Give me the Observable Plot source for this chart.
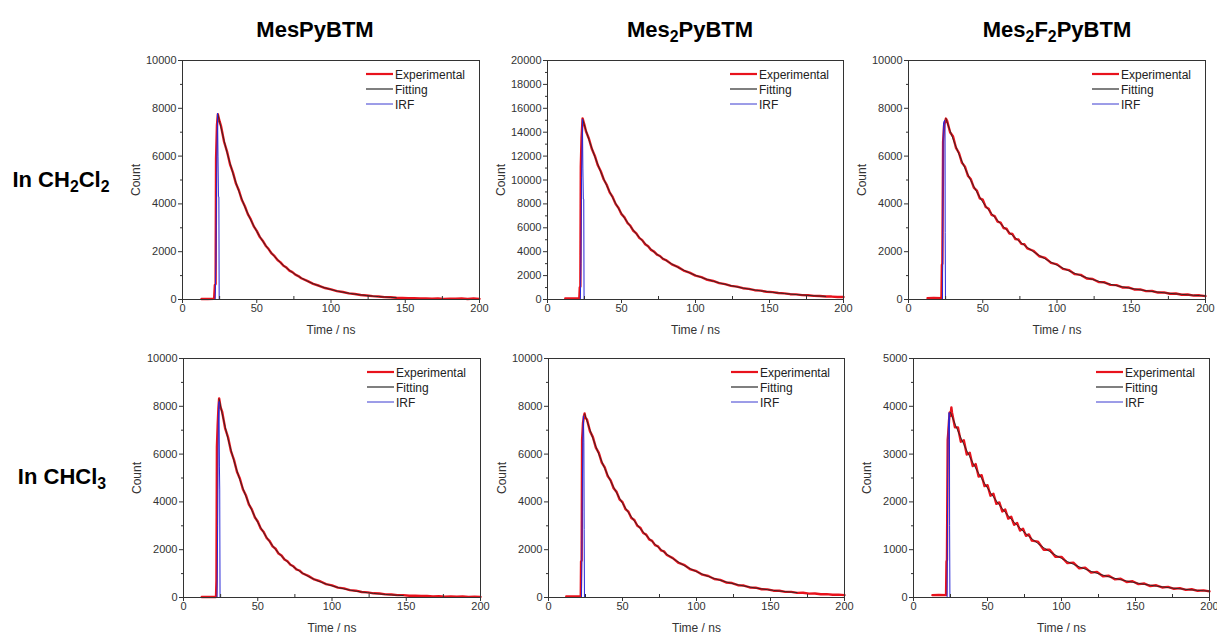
<!DOCTYPE html>
<html><head><meta charset="utf-8">
<script src="https://cdn.jsdelivr.net/npm/d3@7"></script>
<script src="https://cdn.jsdelivr.net/npm/@observablehq/plot@0.6"></script>
<style>
html,body{margin:0;padding:0;background:#fff;}
body{width:1217px;height:635px;position:relative;overflow:hidden;font-family:"Liberation Sans",Arial,sans-serif;}
.title,.rowlab{position:absolute;font-weight:bold;font-size:22px;line-height:1;color:#000;white-space:nowrap;transform:translate(-50%,-50%);}
sub{font-size:0.72em;vertical-align:-0.3em;line-height:0;}
.panel{position:absolute;}
.panel svg{max-width:none !important;}
.legend{position:absolute;}
</style></head><body>
<script>
// ---------- DATA ----------
const titles = ["MesPyBTM", "Mes<sub>2</sub>PyBTM", "Mes<sub>2</sub>F<sub>2</sub>PyBTM"];
const rowLabels = ["In CH<sub>2</sub>Cl<sub>2</sub>", "In CHCl<sub>3</sub>"];
const legendNames = ["Experimental", "Fitting", "IRF"];
const xTicks = [0, 50, 100, 150, 200];
const xMinor = [25, 75, 125, 175];
const yMax = [10000, 20000, 10000, 10000, 10000, 5000];
const yStep = [2000, 2000, 2000, 2000, 2000, 1000];

const tailT = [26,28,30,32,34,36,38,40,42,44,46,48,50,52,54,56,58,60,62,64,66,68,70,72,74,76,78,80,
  84,88,92,96,100,104,108,112,116,120,124,128,132,136,140,144,148,152,156,160,164,168,172,176,180,184,188,192,196,200];

// panel 1: MesPyBTM in CH2Cl2
const headT1 = [12.8, 17, 21.3, 21.8, 22.3, 22.6, 23.2, 23.8, 25];
const headExp1 = [20, 22, 25, 600, 650, 5900, 7300, 7750, 7450];
const tailExp1 = [7240,6600,6190,5660,5310,4850,4560,4160,3900,3570,3350,3060,2870,2620,2460,2250,2110,1925,1810,1650,1555,1415,1335,1210,1145,1040,980,890,
  780,655,575,480,425,350,312,258,230,188,170,140,126,100,92,75,70,55,52,40,48,30,44,25,38,30,45,22,40,28];
const tailFit1 = [7177,6645,6153,5697,5275,4885,4523,4188,3878,3591,3325,3079,2851,2640,2444,2264,2096,1941,1797,1664,1541,1427,1321,1223,1133,1049,971,899,
  771,661,567,486,417,357,306,263,225,193,166,142,122,104,89,77,66,56,48,41,36,32,28,26,24,22,21,20,20,20];
const irfT1 = [22.0, 22.5, 23.0, 23.6, 23.9, 24.2, 24.5, 24.7];
const irfY1 = [0, 1500, 5300, 7800, 6000, 4300, 4300, 0];

// panel 2: Mes2PyBTM in CH2Cl2
const headT2 = [12, 16, 21.5, 21.8, 22.2, 22.5, 23.0, 23.7, 25];
const headExp2 = [80, 90, 80, 1000, 1100, 11100, 13500, 15150, 14600];
const tailExp2 = [14080,13450,12590,12010,11230,10730,10040,9600,8960,8580,8000,7660,7140,6870,6420,6170,5750,5540,5160,4970,4630,4460,4150,4010,3750,3640,3400,3300,
  2940,2730,2420,2250,2000,1870,1650,1550,1370,1290,1140,1075,945,890,780,740,650,615,540,510,445,425,370,352,305,295,250,245,210,205];
const tailFit2 = [14153,13379,12645,11952,11298,10677,10093,9540,9018,8524,8057,7615,7198,6819,6461,6121,5799,5494,5204,4931,4671,4425,4193,3972,3785,3607,3437,3276,
  2975,2701,2453,2228,2023,1843,1680,1530,1394,1271,1158,1055,961,876,798,727,663,604,550,501,457,416,379,346,315,287,261,238,217,198];
const irfT2 = [22.2, 22.6, 23.0, 23.6, 23.9, 24.2, 24.5, 24.7];
const irfY2 = [0, 3000, 10200, 15100, 11000, 8400, 8400, 0];

// panel 3: Mes2F2PyBTM in CH2Cl2
const headT3 = [12.8, 17, 22.2, 22.5, 22.8, 23.3, 24.0, 24.7, 25.2];
const headExp3 = [50, 60, 50, 1450, 1500, 6600, 7300, 7450, 7570];
const tailExp3 = [7480,7000,6820,6340,6130,5720,5560,5180,5030,4680,4560,4230,4180,3870,3800,3540,3490,3260,3220,2990,2960,2760,2740,2530,2510,2330,2310,2140,
  2040,1810,1740,1530,1470,1280,1230,1060,1030,880,860,730,720,610,600,505,505,420,425,350,355,290,300,240,250,200,210,165,175,140];
const tailFit3 = [7420,7058,6714,6387,6075,5779,5497,5229,4974,4731,4500,4281,4072,3906,3746,3594,3447,3306,3171,3042,2918,2799,2684,2575,2470,2369,2272,2180,
  2005,1845,1698,1562,1437,1313,1199,1095,1001,914,835,763,697,637,581,531,485,443,405,370,338,309,282,258,235,215,196,179,164,150];
const irfT3 = [22.9, 23.3, 23.6, 24.3, 24.6, 24.7, 24.9];
const irfY3 = [0, 6500, 7400, 7500, 7300, 2800, 0];

// panel 4: MesPyBTM in CHCl3
const headT4 = [12.3, 17, 21.9, 22.2, 22.5, 23.0, 23.5, 24.0, 25];
const headExp4 = [20, 25, 20, 700, 6300, 7200, 7900, 8330, 7950];
const tailExp4 = [7780,7090,6700,6110,5760,5260,4970,4530,4280,3900,3690,3360,3180,2890,2740,2490,2360,2140,2040,1840,1760,1590,1515,1370,1305,1180,1130,1015,
  905,755,680,560,505,415,380,310,285,230,215,175,165,130,125,100,98,75,78,60,65,45,55,35,48,30,42,28,36,25];
const tailFit4 = [7703,7149,6635,6158,5715,5304,4923,4569,4240,3935,3652,3390,3146,2920,2710,2515,2334,2166,2010,1866,1732,1607,1492,1384,1285,1193,1107,1027,
  885,762,656,565,487,419,361,311,268,231,199,171,148,127,109,94,81,70,60,52,45,38,33,28,25,21,18,16,14,12];
const irfT4 = [22.6, 23.0, 23.5, 23.9, 24.2, 24.4, 24.6];
const irfY4 = [0, 3000, 7600, 8200, 5500, 4500, 0];

// panel 5: Mes2PyBTM in CHCl3
const headT5 = [12, 17, 21.8, 22.0, 22.4, 22.7, 23.3, 24.0, 24.4, 25];
const headExp5 = [40, 45, 40, 1500, 1550, 6600, 7300, 7600, 7700, 7520];
const tailExp5 = [7450,6960,6710,6270,6050,5640,5440,5080,4900,4570,4420,4110,3990,3700,3590,3330,3240,3000,2920,2700,2630,2430,2370,2190,2140,1975,1930,1780,
  1650,1445,1350,1175,1100,955,900,775,740,630,605,515,500,420,410,345,340,285,282,235,236,195,198,162,168,136,142,115,120,100];
const tailFit5 = [7394,7016,6658,6318,5996,5690,5399,5124,4863,4615,4380,4157,3945,3745,3554,3374,3202,3040,2885,2739,2600,2468,2343,2225,2112,2005,1904,1808,
  1630,1471,1326,1197,1081,975,881,796,720,651,589,533,483,437,397,360,327,297,271,247,225,205,188,172,158,145,134,123,114,106];
const irfT5 = [22.3, 22.8, 23.2, 23.6, 23.9, 24.1, 24.3];
const irfY5 = [0, 4000, 6700, 7600, 6500, 2850, 0];

// panel 6: Mes2F2PyBTM in CHCl3
const headT6 = [12.8, 17, 22.0, 22.3, 22.6, 23.1, 23.5, 24.0, 24.5, 25.0, 25.6];
const headExp6 = [50, 55, 50, 750, 780, 3300, 3450, 3700, 3870, 3800, 3975];
const tailExp6 = [3870,3560,3560,3260,3290,2990,3030,2750,2790,2530,2560,2330,2350,2130,2170,1960,1990,1800,1840,1650,1690,1520,1560,1400,1440,1290,1320,1190,
  1170,1000,1000,850,850,720,730,610,625,520,535,445,455,380,392,325,340,280,292,240,255,210,222,182,195,160,172,140,150,128];
const tailFit6 = [3789,3633,3484,3340,3202,3071,2945,2824,2708,2597,2490,2388,2290,2196,2106,2020,1938,1859,1783,1710,1641,1574,1510,1449,1390,1334,1280,1228,
  1131,1042,961,886,817,753,695,642,593,547,506,468,433,401,372,345,320,297,276,257,239,223,208,194,182,170,160,150,141,133];
const irfT6 = [22.7, 23.1, 23.4, 24.0, 24.3, 24.4, 24.6];
const irfY6 = [0, 2500, 3400, 3870, 3800, 1500, 0];

// fit curve starts at the peak
const peakT = [23.8, 23.7, 25.2, 24.0, 24.4, 25.0];
const peakV = [7750, 15100, 7570, 8300, 7680, 3870];
const fitEnd = [146, 190, 200, 150, 168, 200];

// ---------- LAYOUT (pixels) ----------
const frames = [
  {left: 182, top: 60, w: 297}, {left: 547, top: 60, w: 296}, {left: 908, top: 60, w: 297},
  {left: 183, top: 358, w: 297}, {left: 548, top: 358, w: 296}, {left: 913, top: 358, w: 296}
];
const frameH = 239;
const M = {l: 62, r: 6, t: 10, b: 38};
const titlePos = [[315, 30], [690, 30], [1057, 30]];
const rowPos = [[61, 180], [62, 477]];
const RED = "#e8121c", BLACK = "#262626", BLUE = "#2626d8";
const FONT = '"Liberation Sans", Arial, sans-serif';

const heads = [[headT1, headExp1], [headT2, headExp2], [headT3, headExp3], [headT4, headExp4], [headT5, headExp5], [headT6, headExp6]];
const tailsExp = [tailExp1, tailExp2, tailExp3, tailExp4, tailExp5, tailExp6];
const tailsFit = [tailFit1, tailFit2, tailFit3, tailFit4, tailFit5, tailFit6];
const irfs = [[irfT1, irfY1], [irfT2, irfY2], [irfT3, irfY3], [irfT4, irfY4], [irfT5, irfY5], [irfT6, irfY6]];

const body = document.body;
titles.forEach((t, i) => {
  const d = document.createElement("div");
  d.className = "title"; d.innerHTML = t;
  d.style.left = titlePos[i][0] + "px"; d.style.top = titlePos[i][1] + "px";
  body.appendChild(d);
});
rowLabels.forEach((t, i) => {
  const d = document.createElement("div");
  d.className = "rowlab"; d.innerHTML = t;
  d.style.left = rowPos[i][0] + "px"; d.style.top = rowPos[i][1] + "px";
  body.appendChild(d);
});

frames.forEach((f, i) => {
  const exp = heads[i][0].map((t, j) => ({t, v: heads[i][1][j]}))
    .concat(tailT.map((t, j) => ({t, v: tailsExp[i][j]})));
  const fit = [{t: peakT[i], v: peakV[i]}]
    .concat(tailT.map((t, j) => ({t, v: tailsFit[i][j]})))
    .filter(d => d.t <= fitEnd[i]);
  const irf = irfs[i][0].map((t, j) => ({t, v: irfs[i][1][j]}));
  const yMajor = d3.range(0, yMax[i] + 1, yStep[i]);
  const yMinorT = d3.range(yStep[i] / 2, yMax[i], yStep[i]);
  const W = f.w + M.l + M.r, H = frameH + M.t + M.b;

  const chart = Plot.plot({
    width: W,
    height: H,
    marginLeft: M.l, marginRight: M.r, marginTop: M.t, marginBottom: M.b,
    style: {fontFamily: FONT, fontSize: "11px", color: "#333", background: "transparent", overflow: "visible"},
    x: {domain: [0, 200]},
    y: {domain: [0, yMax[i]]},
    marks: [
      Plot.line(exp, {x: "t", y: "v", stroke: RED, strokeWidth: 2.4}),
      Plot.line(fit, {x: "t", y: "v", stroke: BLACK, strokeWidth: 0.9}),
      Plot.line(irf, {x: "t", y: "v", stroke: BLUE, strokeWidth: 1}),
      Plot.frame({stroke: "#333", strokeWidth: 1}),
      Plot.axisX({ticks: xTicks, tickSize: 4, tickPadding: 1, tickFormat: d3.format("d"), label: null, stroke: "#333"}),
      Plot.axisX({ticks: [], label: "Time / ns", labelAnchor: "center", labelOffset: 34, labelArrow: "none", fontSize: 12}),
      Plot.axisX({ticks: xMinor, tickSize: -3, tickFormat: () => "", label: null, stroke: "#333"}),
      Plot.axisY({ticks: yMajor, tickSize: 4, tickPadding: 2, tickFormat: d3.format("d"), label: null, stroke: "#333"}),
      Plot.axisY({ticks: [], label: "Count", labelAnchor: "center", labelOffset: 51, labelArrow: "none", fontSize: 12}),
      Plot.axisY({ticks: yMinorT, tickSize: 2, tickFormat: () => "", label: null, stroke: "#333"})
    ]
  });
  const wrap = document.createElement("div");
  wrap.className = "panel";
  wrap.style.left = (f.left - M.l) + "px";
  wrap.style.top = (f.top - M.t) + "px";
  wrap.style.width = W + "px";
  wrap.style.height = H + "px";
  wrap.appendChild(chart);
  body.appendChild(wrap);

  // legend
  const ns = "http://www.w3.org/2000/svg";
  const lg = document.createElementNS(ns, "svg");
  lg.setAttribute("class", "legend");
  lg.setAttribute("width", 112); lg.setAttribute("height", 50);
  lg.style.left = (f.left + f.w - 113) + "px";
  lg.style.top = (f.top + 7) + "px";
  const cols = [RED, "#555", "#3a3ad0"], widths = [2.2, 1.5, 1];
  legendNames.forEach((name, k) => {
    const y = 7 + k * 15;
    const ln = document.createElementNS(ns, "line");
    ln.setAttribute("x1", 0); ln.setAttribute("x2", 27);
    ln.setAttribute("y1", y); ln.setAttribute("y2", y);
    ln.setAttribute("stroke", cols[k]); ln.setAttribute("stroke-width", widths[k]);
    lg.appendChild(ln);
    const tx = document.createElementNS(ns, "text");
    tx.setAttribute("x", 29); tx.setAttribute("y", y + 4.5);
    tx.setAttribute("font-size", "12px");
    tx.setAttribute("font-family", FONT);
    tx.setAttribute("fill", "#222");
    tx.textContent = name;
    lg.appendChild(tx);
  });
  body.appendChild(lg);
});
</script>
</body></html>
